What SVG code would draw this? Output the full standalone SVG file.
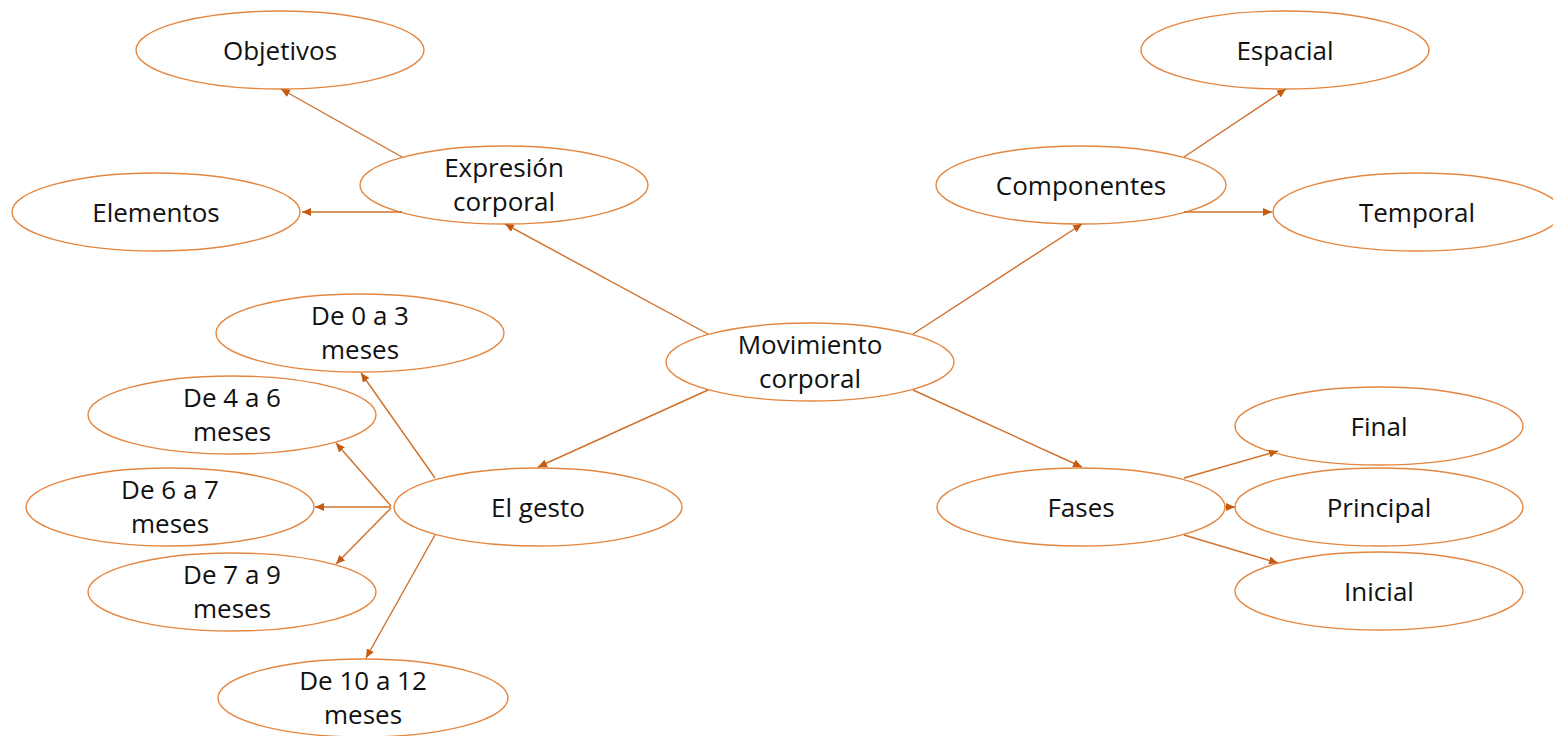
<svg xmlns="http://www.w3.org/2000/svg" width="1553" height="736" viewBox="0 0 1553 736">
<style>
.n ellipse{fill:#ffffff;stroke:#E4863F;stroke-width:1.4}
.n text{font-family:"Open Sans","Liberation Sans",sans-serif;font-size:26px;fill:#111111;text-anchor:middle}
#connectors line{stroke:#D0702B;stroke-width:1.4;marker-end:url(#arr)}
</style>
<defs>
<marker id="arr" markerUnits="userSpaceOnUse" markerWidth="9" markerHeight="8" refX="9" refY="4" orient="auto">
<path d="M0,0 L9,4 L0,8 z" fill="#C55A11"/>
</marker>
</defs>
<rect width="1553" height="736" fill="#ffffff"/>
<g class="n" id="objetivos"><ellipse cx="280" cy="50" rx="144" ry="39"/><text x="280" y="60">Objetivos</text></g>
<g class="n" id="elementos"><ellipse cx="156" cy="212" rx="144" ry="39"/><text x="156" y="222">Elementos</text></g>
<g class="n" id="expresion"><ellipse cx="504" cy="185" rx="144" ry="39"/><text x="504" y="177">Expresión</text><text x="504" y="211">corporal</text></g>
<g class="n" id="espacial"><ellipse cx="1285" cy="50" rx="144" ry="39"/><text x="1285" y="60">Espacial</text></g>
<g class="n" id="componentes"><ellipse cx="1081" cy="185" rx="145" ry="39"/><text x="1081" y="195">Componentes</text></g>
<g class="n" id="temporal"><ellipse cx="1417" cy="212" rx="144" ry="39"/><text x="1417" y="222">Temporal</text></g>
<g class="n" id="movimiento"><ellipse cx="810" cy="362" rx="144" ry="39"/><text x="810" y="354">Movimiento</text><text x="810" y="388">corporal</text></g>
<g class="n" id="m0a3"><ellipse cx="360" cy="333" rx="144" ry="39"/><text x="360" y="325">De 0 a 3</text><text x="360" y="359">meses</text></g>
<g class="n" id="m4a6"><ellipse cx="232" cy="415" rx="144" ry="39"/><text x="232" y="407">De 4 a 6</text><text x="232" y="441">meses</text></g>
<g class="n" id="m6a7"><ellipse cx="170" cy="507" rx="144" ry="39"/><text x="170" y="499">De 6 a 7</text><text x="170" y="533">meses</text></g>
<g class="n" id="m7a9"><ellipse cx="232" cy="592" rx="144" ry="39"/><text x="232" y="584">De 7 a 9</text><text x="232" y="618">meses</text></g>
<g class="n" id="m10a12"><ellipse cx="363" cy="698" rx="145" ry="39"/><text x="363" y="690">De 10 a 12</text><text x="363" y="724">meses</text></g>
<g class="n" id="gesto"><ellipse cx="538" cy="507" rx="144" ry="39"/><text x="538" y="517">El gesto</text></g>
<g class="n" id="fases"><ellipse cx="1081" cy="507" rx="144" ry="39"/><text x="1081" y="517">Fases</text></g>
<g class="n" id="final"><ellipse cx="1379" cy="426" rx="144" ry="39"/><text x="1379" y="436">Final</text></g>
<g class="n" id="principal"><ellipse cx="1379" cy="507" rx="144" ry="39"/><text x="1379" y="517">Principal</text></g>
<g class="n" id="inicial"><ellipse cx="1379" cy="591" rx="144" ry="39"/><text x="1379" y="601">Inicial</text></g>
<g id="connectors">
<line x1="708" y1="334" x2="505" y2="224"/>
<line x1="913" y1="334" x2="1082" y2="224"/>
<line x1="708" y1="390" x2="538" y2="467"/>
<line x1="913" y1="390" x2="1082" y2="467"/>
<line x1="402" y1="157" x2="281" y2="89"/>
<line x1="402" y1="212" x2="302" y2="212"/>
<line x1="1184" y1="157" x2="1286" y2="89"/>
<line x1="1184" y1="212" x2="1272" y2="212"/>
<line x1="1184" y1="478" x2="1278" y2="451"/>
<line x1="1225" y1="507" x2="1235" y2="507"/>
<line x1="1184" y1="535" x2="1278" y2="563"/>
<line x1="435" y1="478" x2="361" y2="373"/>
<line x1="391" y1="506" x2="336" y2="443"/>
<line x1="391" y1="507" x2="315" y2="507"/>
<line x1="391" y1="508" x2="336" y2="564"/>
<line x1="435" y1="535" x2="366" y2="658"/>
</g>
</svg>
